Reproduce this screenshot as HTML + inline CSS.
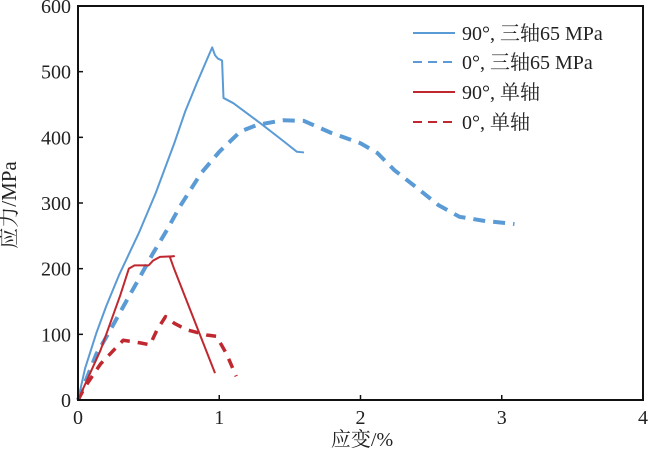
<!DOCTYPE html>
<html><head><meta charset="utf-8"><style>
body{margin:0;background:#fff;}
svg text{font-family:"Liberation Serif","Noto Serif CJK SC",serif;fill:#222;}
</style></head><body>
<svg width="650" height="451" viewBox="0 0 650 451">
<g id="plot"></g>
<rect x="78" y="6" width="565" height="394" fill="none" stroke="#111" stroke-width="2"/>
<g id="axes"></g>
<text x="16" y="205" font-size="21" transform="rotate(-90 16 205)" text-anchor="middle">应力/MPa</text>
<text x="362" y="446" font-size="20" text-anchor="middle">应变/%</text>
<g>
<line x1="413" y1="33" x2="455" y2="33" stroke="#5b9bd5" stroke-width="2"/>
<text x="462" y="40" font-size="20">90°, 三轴65 MPa</text>
<line x1="413" y1="62" x2="455" y2="62" stroke="#5b9bd5" stroke-width="2" stroke-dasharray="9,6"/>
<text x="462" y="69" font-size="20">0°, 三轴65 MPa</text>
<line x1="413" y1="92" x2="455" y2="92" stroke="#c0282f" stroke-width="2"/>
<text x="462" y="99" font-size="20">90°, 单轴</text>
<line x1="413" y1="122" x2="455" y2="122" stroke="#c0282f" stroke-width="2" stroke-dasharray="9,6"/>
<text x="462" y="129" font-size="20">0°, 单轴</text>
</g>
</svg>
<script>
const xTicks=[0,1,2,3,4];
const yTicks=[0,100,200,300,400,500,600];
const tri90Strain=[0,0.05,0.13,0.2,0.29,0.36,0.43,0.55,0.68,0.76,0.84,0.9,0.95,0.97,0.99,1.02,1.03,1.1,1.3,1.45,1.55,1.6];
const tri90Stress=[0,48,102,143,190,222,254,315,390,440,482,512,537,525,520,517,460,452,420,395,378,377];
const tri0Strain=[0,0.13,0.23,0.32,0.44,0.53,0.63,0.72,0.87,1.0,1.15,1.27,1.45,1.6,1.79,2.0,2.12,2.24,2.4,2.55,2.7,2.87,3.09];
const tri0Stress=[0,70,107,142,188,223,259,294,345,378,409,419,426,425,407,391,376,350,323,297,279,273,268];
const uni90Strain=[0,0.16,0.3,0.36,0.4,0.5,0.53,0.58,0.68,0.65,0.68,0.97];
const uni90Stress=[0,76,160,200,205,205,212,218,219,218,200,41];
const uni0Strain=[0,0.05,0.16,0.32,0.44,0.51,0.56,0.62,0.68,0.77,0.91,0.98,1.05,1.12];
const uni0Stress=[0,20,55,91,87,84,107,127,117,107,99,97,71,36];
const X0=78,X1=643,Y0=400,Y1=6;
const sx=v=>X0+(v-0)/(4-0)*(X1-X0);
const sy=v=>Y0-(v-0)/(600-0)*(Y0-Y1);
const NS="http://www.w3.org/2000/svg";
const plot=document.getElementById('plot'),axes=document.getElementById('axes');
function line(xs,ys,color,w,dash,name){
  const p=document.createElementNS(NS,'polyline');
  p.setAttribute('points',xs.map((x,i)=>sx(x)+','+sy(ys[i])).join(' '));
  p.setAttribute('fill','none');p.setAttribute('stroke',color);p.setAttribute('stroke-width',w);
  p.setAttribute('stroke-linejoin','round');
  if(dash)p.setAttribute('stroke-dasharray',dash);
  
  
  plot.appendChild(p);
}
line(tri0Strain,tri0Stress,'#5b9bd5',4,'12,8','series-0-triaxial');
line(uni0Strain,uni0Stress,'#c0282f',3.5,'10,8','series-0-uniaxial');
line(tri90Strain,tri90Stress,'#5b9bd5',2,null,'series-90-triaxial');
line(uni90Strain,uni90Stress,'#c0282f',2,null,'series-90-uniaxial');
xTicks.forEach(t=>{
  const l=document.createElementNS(NS,'line');
  l.setAttribute('x1',sx(t));l.setAttribute('x2',sx(t));l.setAttribute('y1',Y0);l.setAttribute('y2',Y0-5);
  l.setAttribute('stroke','#111');l.setAttribute('stroke-width','1.5');
  
  
  axes.appendChild(l);
  const tx=document.createElementNS(NS,'text');
  tx.setAttribute('x',sx(t));tx.setAttribute('y',424);tx.setAttribute('font-size','20');tx.setAttribute('text-anchor','middle');
  tx.textContent=t;
  
  
  axes.appendChild(tx);
});
yTicks.forEach(t=>{
  const l=document.createElementNS(NS,'line');
  l.setAttribute('x1',X0);l.setAttribute('x2',X0+5);l.setAttribute('y1',sy(t));l.setAttribute('y2',sy(t));
  l.setAttribute('stroke','#111');l.setAttribute('stroke-width','1.5');
  
  
  axes.appendChild(l);
  const tx=document.createElementNS(NS,'text');
  tx.setAttribute('x',71);tx.setAttribute('y',sy(t)+7);tx.setAttribute('font-size','20');tx.setAttribute('text-anchor','end');
  tx.textContent=t;
  
  
  axes.appendChild(tx);
});
</script>
</body></html>
